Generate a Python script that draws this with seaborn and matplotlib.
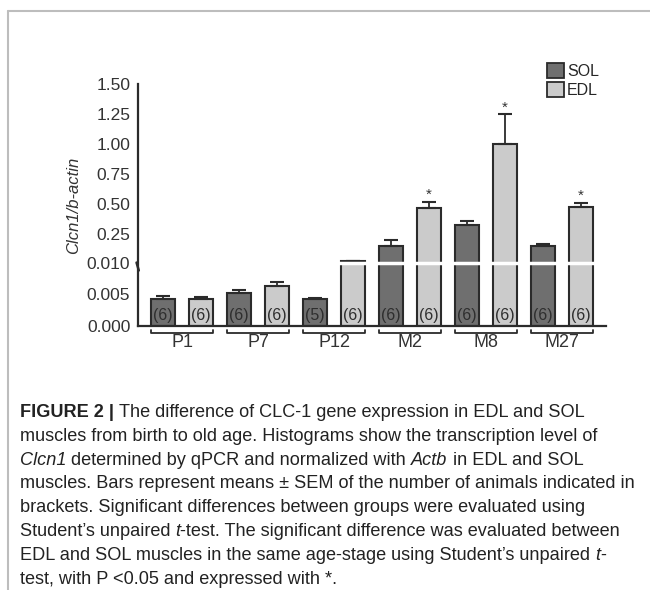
import matplotlib
matplotlib.use("Agg")
from matplotlib import pyplot as plt
from matplotlib.lines import Line2D
from matplotlib.patches import Patch
from matplotlib.font_manager import FontProperties
from matplotlib import transforms
import seaborn as sns
import pandas as pd
import numpy as np

# data
groups = ["P1", "P7", "P12", "M2", "M8", "M27"]
muscles = ["SOL", "EDL"]
sol_mean = [0.0043, 0.0053, 0.0043, 0.149, 0.326, 0.153]
sol_sem = [0.0004, 0.0004, 0.0001, 0.054, 0.037, 0.017]
edl_mean = [0.0042, 0.0063, 0.022, 0.472, 1.006, 0.480]
edl_sem = [0.0004, 0.0006, 0.004, 0.047, 0.243, 0.031]
sol_n = [6, 6, 5, 6, 6, 6]
edl_n = [6, 6, 6, 6, 6, 6]
edl_signif = [False, False, False, True, True, True]
yticks = [0, 0.005, 0.010, 0.25, 0.50, 0.75, 1.00, 1.25, 1.50]
ytick_labels = ["0.000", "0.005", "0.010", "0.25", "0.50", "0.75", "1.00", "1.25", "1.50"]

# caption lines as (text, style) runs
caption = [
    [("FIGURE 2 | ", "bold"), ("The difference of CLC-1 gene expression in EDL and SOL", "normal")],
    [("muscles from birth to old age. Histograms show the transcription level of", "normal")],
    [("Clcn1", "italic"), (" determined by qPCR and normalized with ", "normal"),
     ("Actb", "italic"), (" in EDL and SOL", "normal")],
    [("muscles. Bars represent means \u00b1 SEM of the number of animals indicated in", "normal")],
    [("brackets. Significant differences between groups were evaluated using", "normal")],
    [("Student\u2019s unpaired ", "normal"), ("t", "italic"),
     ("-test. The significant difference was evaluated between", "normal")],
    [("EDL and SOL muscles in the same age-stage using Student\u2019s unpaired ", "normal"),
     ("t", "italic"), ("-", "normal")],
    [("test, with P <0.05 and expressed with *.", "normal")],
]

BREAK = 0.010


# segmented y axis: 0-0.010 below the break, 0.25 steps above it
def fwd(v):
    v = np.asarray(v, dtype=float)
    return np.where(v <= BREAK, v / BREAK, 1 + (v - BREAK) * 1.9)


def inv(u):
    u = np.asarray(u, dtype=float)
    return np.where(u <= 1, u * BREAK, BREAK + (u - 1) / 1.9)


rows = []
for i, g in enumerate(groups):
    rows.append({"bar": f"{g} SOL", "muscle": "SOL", "value": sol_mean[i],
                 "sem": sol_sem[i], "n": sol_n[i]})
    rows.append({"bar": f"{g} EDL", "muscle": "EDL", "value": edl_mean[i],
                 "sem": edl_sem[i], "n": edl_n[i]})
df = pd.DataFrame(rows)

sns.set_style("white")
plt.rcParams["font.family"] = ["Liberation Sans", "DejaVu Sans"]

colors = {"SOL": "#6f6f6f", "EDL": "#cbcbcb"}
edge = "#2b2b2b"
W, H = 650, 590

fig = plt.figure(figsize=(6.5, 5.9), dpi=100)
ax = fig.add_axes([0.2118, 0.4475, 0.72, 0.4096])
ax.set_yscale("function", functions=(fwd, inv))

sns.barplot(data=df, x="bar", y="value", hue="muscle", dodge=False,
            palette=colors, width=0.62, edgecolor=edge, linewidth=1.5,
            errorbar=None, legend=False, ax=ax)

xpos = np.arange(len(df))
ax.errorbar(xpos, df["value"], yerr=[np.zeros(len(df)), df["sem"]],
            fmt="none", ecolor=edge, elinewidth=1.3, capsize=5, capthick=1.5)

ax.set_ylim(0, 1.5)
ax.set_xlim(-0.67, 11.65)
ax.set_yticks(yticks)
ax.set_yticklabels(ytick_labels)
ax.yaxis.set_minor_locator(matplotlib.ticker.NullLocator())
ax.tick_params(axis="y", length=3.8, width=1.5, color=edge, labelsize=12.5,
               labelcolor="#333333", pad=1.5)
ax.yaxis.get_major_ticks()[2].tick1line.set_visible(False)
ax.set_xticks([])
ax.set_xlabel("")
ax.set_ylabel("Clcn1/b-actin", fontsize=12, style="italic", color="#333333",
              labelpad=4)
sns.despine(ax=ax)
for s in ["left", "bottom"]:
    ax.spines[s].set_linewidth(1.6)
    ax.spines[s].set_color(edge)

# white band at the axis break and a slash on the spine
ax.axhline(BREAK, xmin=0.01, xmax=0.99, color="white", lw=2.5, zorder=5)
ax.plot([-0.70, -0.64], [0.0128, 0.0088], color=edge, lw=1.8, clip_on=False, zorder=6)

# counts inside bars, stars above significant ones
for i, r in df.iterrows():
    ax.text(i, 0.0017, f"({r['n']})", ha="center", va="center", fontsize=11.5,
            color="#2e2e2e", zorder=7)
for gi, sig in enumerate(edl_signif):
    if sig:
        k = 2 * gi + 1
        top = edl_mean[gi] + edl_sem[gi]
        ax.annotate("*", (k, top), xytext=(0, 0), textcoords="offset points",
                    ha="center", va="bottom", fontsize=11, color="#333333")

# group brackets and labels below the axis
trans = transforms.blended_transform_factory(ax.transData, ax.transAxes)
for gi, g in enumerate(groups):
    x0 = 2 * gi - 0.31
    x1 = 2 * gi + 1.31
    ax.plot([x0, x0, x1, x1], [-0.016, -0.03, -0.03, -0.016], color=edge,
            lw=1.3, transform=trans, clip_on=False)
    ax.text(2 * gi + 0.5, -0.033, g, transform=trans, ha="center", va="top",
            fontsize=13, color="#333333")

handles = [Patch(facecolor=colors[m], edgecolor=edge, linewidth=1.3, label=m)
           for m in muscles]
fig.legend(handles=handles, loc="upper left", bbox_to_anchor=(0.829, 0.906),
           frameon=False, fontsize=11.5, handlelength=1.06, handleheight=1.06,
           handletextpad=0.2, labelspacing=0.15, borderpad=0)

# page frame lines
fig.add_artist(Line2D([8 / W, 1], [1 - 11 / H, 1 - 11 / H], color="#bdbdbd", lw=1.5))
fig.add_artist(Line2D([8 / W, 8 / W], [0, 1 - 11 / H], color="#bdbdbd", lw=1.5))

# caption, drawn run by run so italics sit inline
renderer = fig.canvas.get_renderer()
cap_size = 13.1
ref = FontProperties(family="Liberation Sans", size=cap_size)


def run_width(s, style):
    prop = ref.copy()
    if style == "bold":
        prop.set_weight("bold")
    elif style == "italic":
        prop.set_style("italic")
    w1 = renderer.get_text_width_height_descent(s + "l", prop, ismath=False)[0]
    w2 = renderer.get_text_width_height_descent("l", prop, ismath=False)[0]
    return w1 - w2


for j, line in enumerate(caption):
    x = 20.0
    ybase = 412 + j * 23.8 + 5
    for s, style in line:
        kw = {"fontweight": "bold"} if style == "bold" else {"fontstyle": style}
        fig.text(x / W, 1 - ybase / H, s, fontsize=cap_size, va="baseline",
                 ha="left", color="#222222", **kw)
        x += run_width(s, style)

fig.savefig("out.png", dpi=100)
